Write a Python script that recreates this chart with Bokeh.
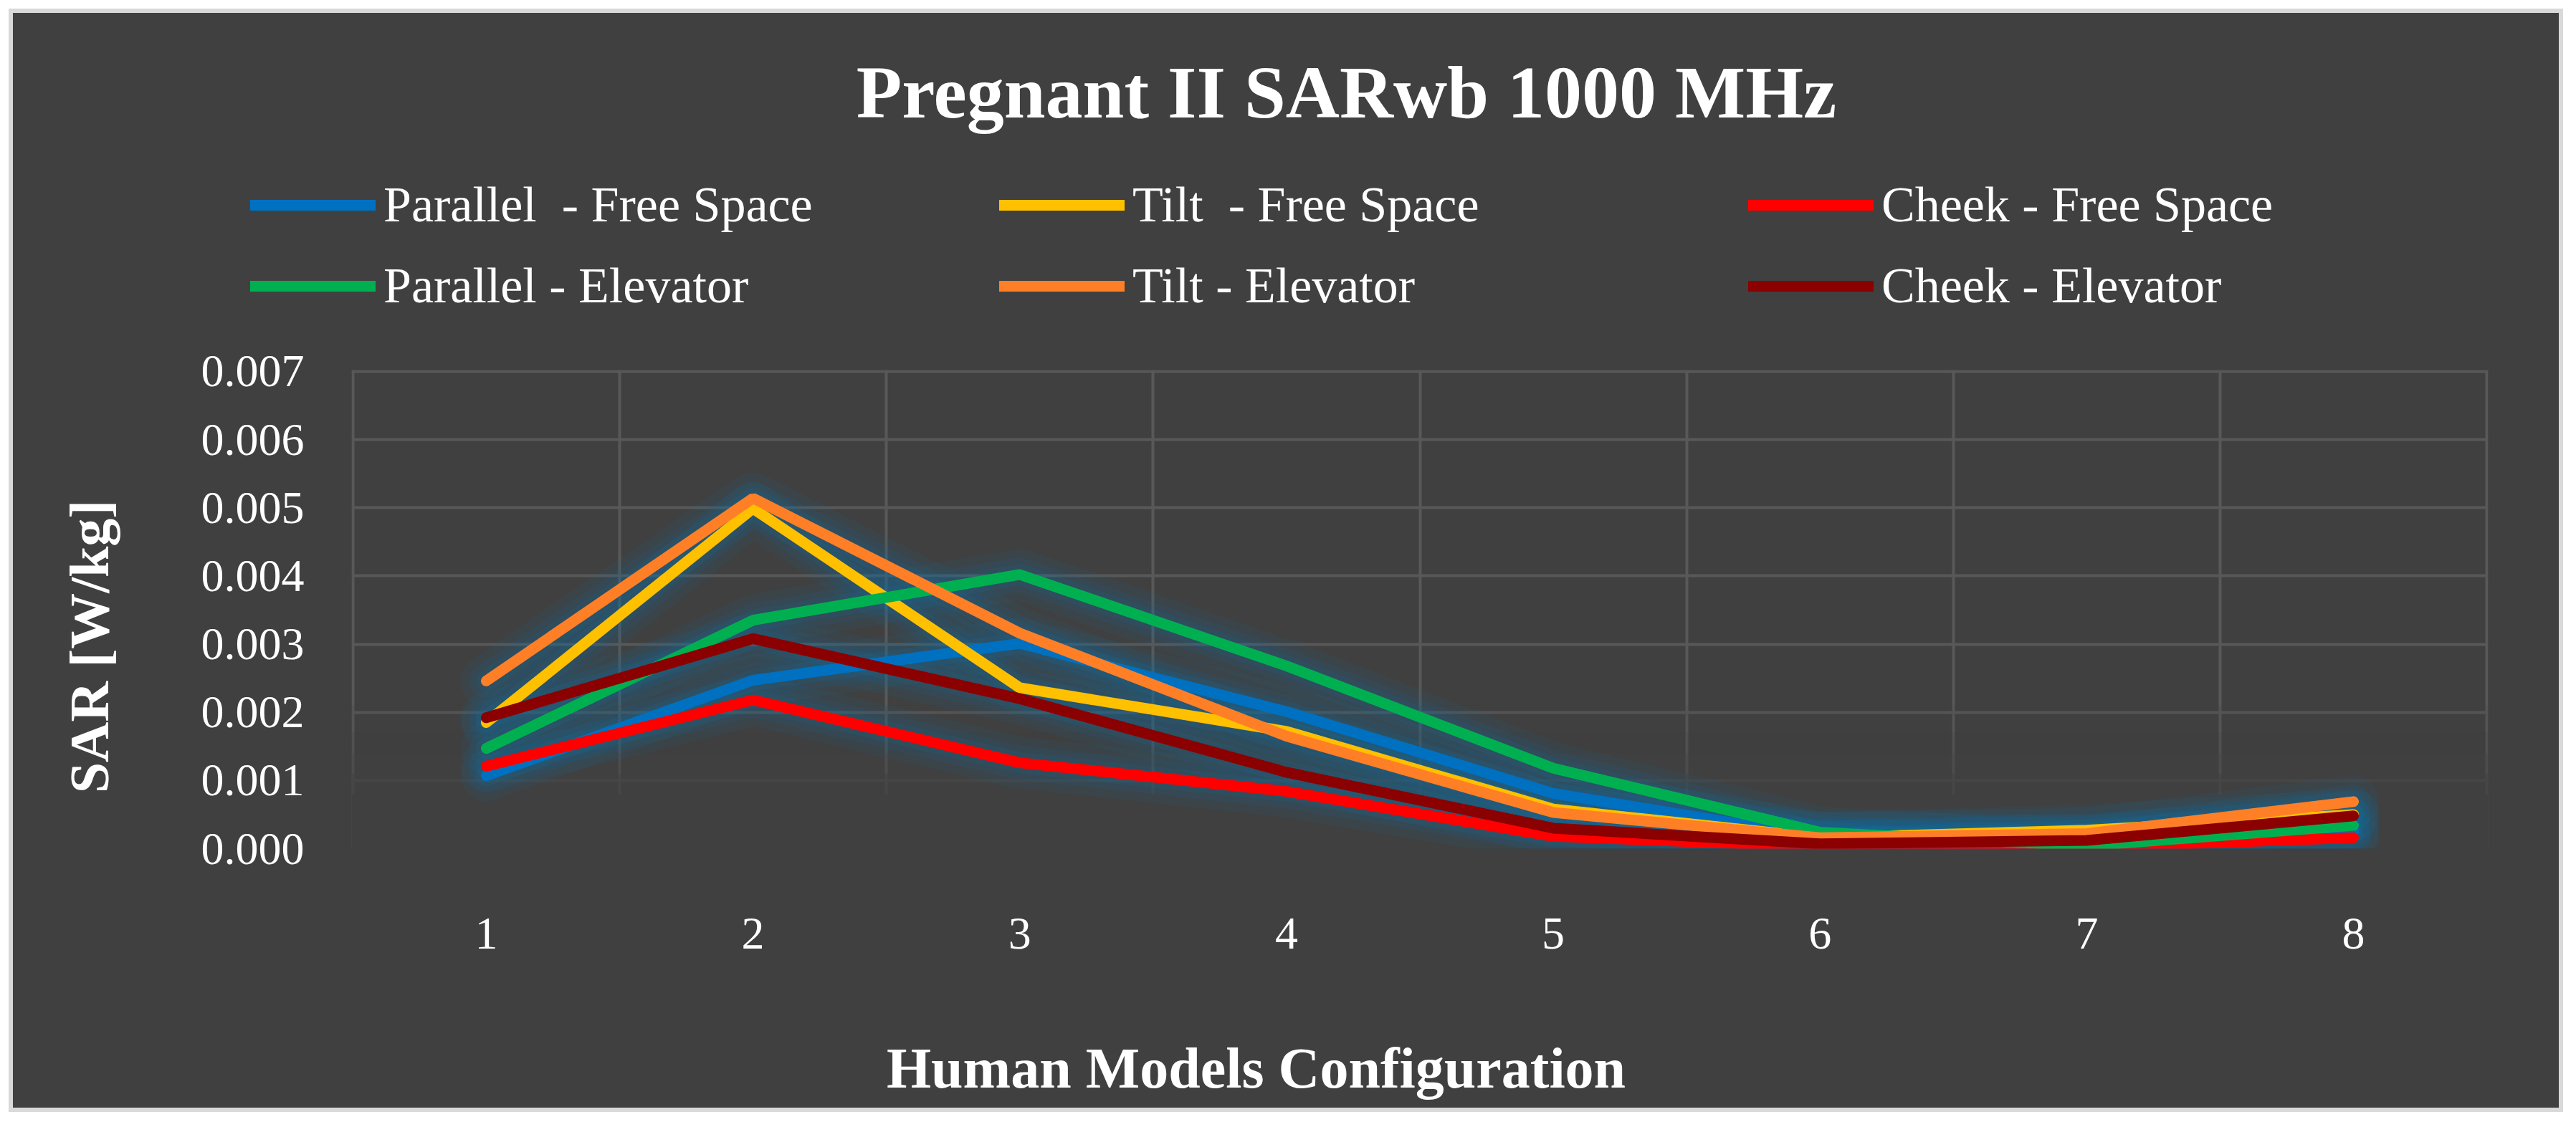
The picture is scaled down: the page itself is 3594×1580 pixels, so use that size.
import math
from bokeh.plotting import figure
from bokeh.layouts import column, row
from bokeh.models import (Legend, LegendItem, Label, FixedTicker, NumeralTickFormatter,
                          BoxAnnotation, Range1d, Spacer)
from bokeh.embed import file_html
from bokeh.resources import INLINE

# ---------------- data ----------------
configs = ["1", "2", "3", "4", "5", "6", "7", "8"]
parallel_free = [0.00107, 0.00247, 0.00301, 0.00201, 0.00081, 0.00017, 0.00012, 0.00025]
tilt_free = [0.00185, 0.00499, 0.00236, 0.00172, 0.00058, 0.00016, 0.00027, 0.00050]
cheek_free = [0.00121, 0.00218, 0.00126, 0.00084, 0.00018, 0.00003, 0.00002, 0.00016]
parallel_elev = [0.00147, 0.00335, 0.00402, 0.00268, 0.00118, 0.00024, 0.00004, 0.00034]
tilt_elev = [0.00246, 0.00514, 0.00316, 0.00165, 0.00053, 0.00016, 0.00022, 0.00069]
cheek_elev = [0.00192, 0.00308, 0.00220, 0.00112, 0.00030, 0.00007, 0.00012, 0.00048]
series_names = ["Parallel  - Free Space", "Tilt  - Free Space", "Cheek - Free Space",
                "Parallel - Elevator", "Tilt - Elevator", "Cheek - Elevator"]
y_ticks = [0.000, 0.001, 0.002, 0.003, 0.004, 0.005, 0.006, 0.007]
title_text = "Pregnant II SARwb 1000 MHz"
x_title = "Human Models Configuration"
y_title = "SAR [W/kg]"

# ---------------- style ----------------
BG = "#404040"
GRID = "#585858"
FONT = "Liberation Serif"
colors = ["#0070C0", "#FFC000", "#FF0000", "#00B050", "#FF7F27", "#8B0000"]
series = [parallel_free, tilt_free, cheek_free, parallel_elev, tilt_elev, cheek_elev]

W = 3552          # drawing area (inside the light border)
H = 1528
H_HEAD = 440
H_FOOT = 188
H_MID = H - H_HEAD - H_FOOT
W_LEFT = 200
xs = list(range(1, len(configs) + 1))


def no_outline(f):
    f.outline_line_color = None
    f.outline_line_alpha = 0
    f.outline_line_width = 0
    if "frame_align" in f.properties():
        f.frame_align = False


def blank(width, height):
    f = figure(width=width, height=height, x_range=Range1d(0, width), y_range=Range1d(0, height),
               x_axis_type=None, y_axis_type=None,
               output_backend="svg", toolbar_location=None,
               min_border_left=0, min_border_right=0, min_border_top=0, min_border_bottom=0,
               background_fill_color=None, border_fill_color=BG)
    f.grid.visible = False
    f.title.visible = False
    no_outline(f)
    return f


# ---------------- header: title + legend ----------------
head = blank(W, H_HEAD)
dummies = [head.line(xs, ys, line_color=c, line_width=15, line_cap="round", visible=False)
           for ys, c in zip(series, colors)]
legend = Legend(items=[LegendItem(label=n, renderers=[r]) for n, r in zip(series_names, dummies)],
                location=(331, 14), orientation="horizontal", ncols=3,
                glyph_width=175, glyph_height=90, label_height=90, label_width=836,
                spacing=23, padding=0, margin=0, label_standoff=11,
                label_text_font=FONT, label_text_font_size="70px",
                label_text_color="white", border_line_color=None,
                background_fill_alpha=0, inactive_fill_alpha=0)
head.add_layout(legend, "center")
head.add_layout(Label(x=1860, y=H_HEAD - 110, x_units="screen", y_units="screen", text=title_text,
                      text_font=FONT, text_font_size="104px", text_font_style="bold",
                      text_color="white", text_align="center", text_baseline="middle"))

# ---------------- left: y-axis title ----------------
left = blank(W_LEFT, H_MID)
left.add_layout(Label(x=106, y=H_HEAD + H_MID - 884, x_units="screen", y_units="screen",
                      text=y_title, angle=math.pi / 2, text_font=FONT, text_font_size="78px",
                      text_font_style="bold", text_color="white",
                      text_align="center", text_baseline="middle"))

# ---------------- footer: x-axis title ----------------
foot = blank(W, H_FOOT)
foot.add_layout(Label(x=1734, y=H - 1472, x_units="screen", y_units="screen", text=x_title,
                      text_font=FONT, text_font_size="80px", text_font_style="bold",
                      text_color="white", text_align="center", text_baseline="middle"))

# ---------------- main plot ----------------
p = figure(width=W - W_LEFT, height=H_MID,
           x_range=Range1d(0.495, len(configs) + 0.505),
           y_range=Range1d(0, 0.00702),
           output_backend="svg", toolbar_location=None,
           min_border_left=472 - W_LEFT, min_border_right=W - 3453,
           min_border_top=498 - H_HEAD, min_border_bottom=H_HEAD + H_MID - 1166,
           background_fill_color=None, border_fill_color=BG)
no_outline(p)

p.xaxis.ticker = FixedTicker(ticks=xs)
p.xaxis.major_label_overrides = {float(x): lab for x, lab in zip(xs, configs)}
p.yaxis.ticker = FixedTicker(ticks=y_ticks)
p.yaxis.formatter = NumeralTickFormatter(format="0.000")
for ax in (p.xaxis[0], p.yaxis[0]):
    ax.axis_line_color = None
    ax.major_tick_line_color = None
    ax.minor_tick_line_color = None
    ax.major_tick_out = 0
    ax.major_tick_in = 0
    ax.major_label_text_color = "white"
    ax.major_label_text_font = FONT
    ax.major_label_text_font_size = "64px"
p.xaxis.major_label_standoff = 97
p.yaxis.major_label_standoff = 66

p.xgrid.ticker = FixedTicker(ticks=[i + 0.5 for i in range(len(configs) + 1)])
p.xgrid.bounds = (0, len(configs) + 1)
p.ygrid.ticker = FixedTicker(ticks=[t for t in y_ticks if t > 0])
p.ygrid.bounds = (-1, 1)
for g in (p.xgrid[0], p.ygrid[0]):
    g.grid_line_color = GRID
    g.grid_line_width = 4

# grid fades out towards the bottom
for b, t, a in [(-0.001, 0.0008, 1.0), (0.0008, 0.0011, 0.75), (0.0011, 0.0014, 0.5),
                (0.0014, 0.0017, 0.3), (0.0017, 0.0021, 0.15)]:
    p.add_layout(BoxAnnotation(bottom=b, top=t, fill_color=BG, fill_alpha=a,
                               line_color=None, line_alpha=0, level="underlay"))

# soft blue glow behind the lines
for ys in series:
    for w, a in [(72, 0.10), (48, 0.12), (30, 0.14)]:
        p.line(xs, ys, line_color="#146EA0", line_width=w, line_alpha=a,
               line_cap="round", line_join="round")

for ys, c in zip(series, colors):
    p.line(xs, ys, line_color=c, line_width=15, line_cap="round")

page = column(head, row(left, p, spacing=0), foot, spacing=0)
page.styles = {"border": "6px solid #D9D9D9", "background-color": BG}
layout = column(Spacer(height=12), row(Spacer(width=12), page))

open("out.html", "w").write(file_html(layout, INLINE))
